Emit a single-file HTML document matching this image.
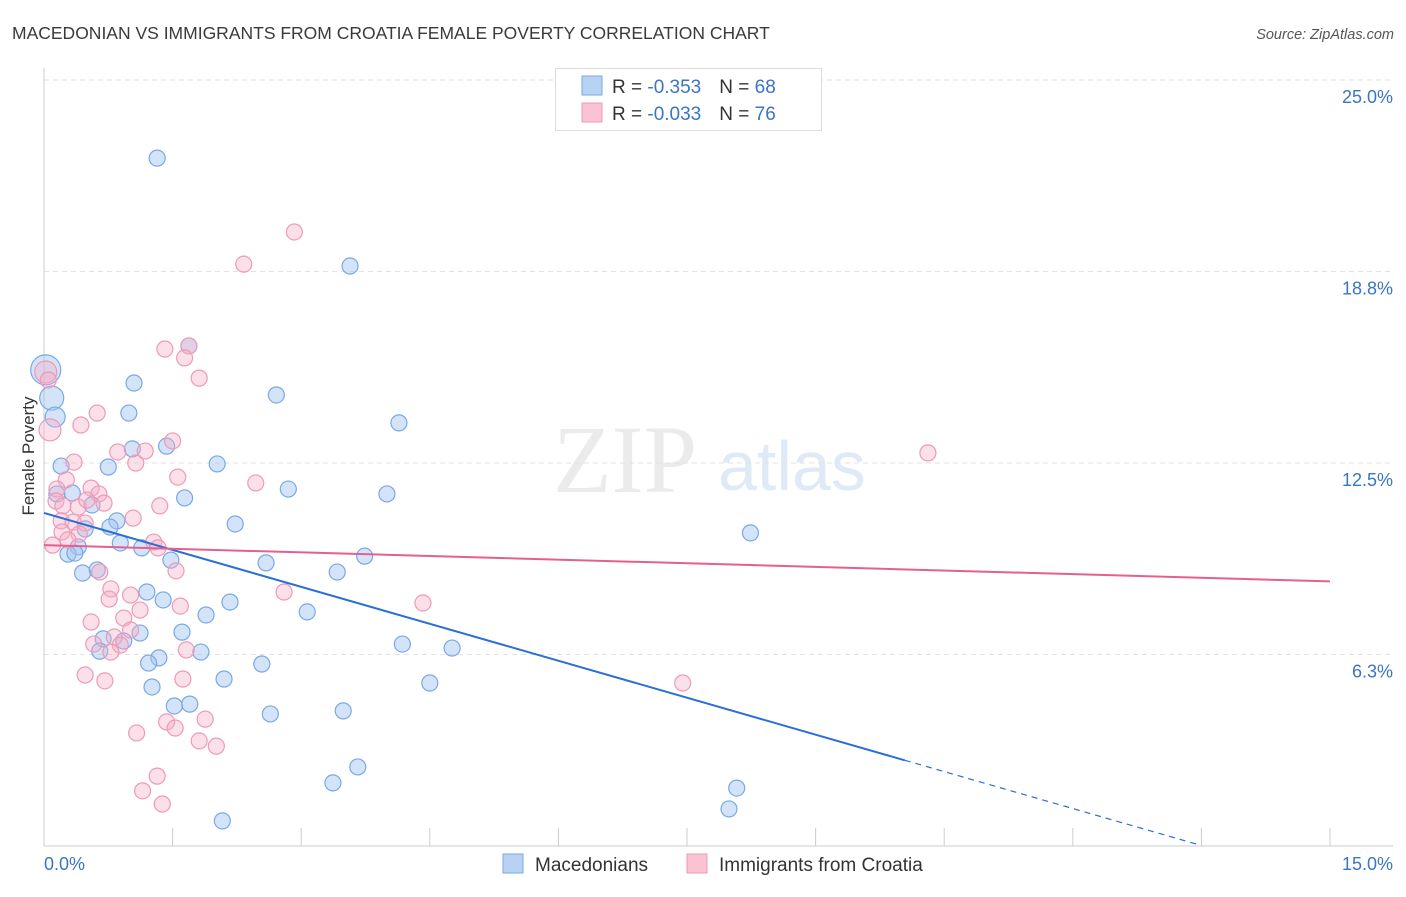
<!DOCTYPE html>
<html><head><meta charset="utf-8"><style>
body{margin:0;background:#fff;font-family:"Liberation Sans",sans-serif;}
</style></head><body>
<svg id="chart" width="1406" height="892" xmlns="http://www.w3.org/2000/svg" style="font-family:'Liberation Sans',sans-serif">
<text x="12" y="39" font-size="17.5" fill="#3a3a3a">MACEDONIAN VS IMMIGRANTS FROM CROATIA FEMALE POVERTY CORRELATION CHART</text>
<text x="1394" y="39" font-size="14.5" fill="#555" font-style="italic" text-anchor="end">Source: ZipAtlas.com</text>
<g opacity="0.35">
<text x="553" y="492" font-family="'Liberation Serif',serif" font-size="96" fill="#c8c8c8">ZIP</text>
<text x="718" y="490" font-size="70" fill="#a8c4ea">atlas</text>
</g>
<g id="grid"></g>
<g id="axes"></g>
<g id="points"></g>
<g id="lines"></g>
<text transform="translate(34,456) rotate(-90)" font-size="17" fill="#333" text-anchor="middle">Female Poverty</text>
<g>
<rect x="555.5" y="68.5" width="266" height="62" fill="#fff" stroke="#ddd"/>
<rect x="582" y="76" width="20" height="19" fill="#b8d2f4" stroke="#7aa8e6"/>
<rect x="582" y="103" width="20" height="19" fill="#f9c3d3" stroke="#ee9ab6"/>
<text x="612" y="93" font-size="19" fill="#333">R = <tspan fill="#3a75c4">-0.353</tspan><tspan dx="18">N = </tspan><tspan fill="#3a75c4">68</tspan></text>
<text x="612" y="120" font-size="19" fill="#333">R = <tspan fill="#3a75c4">-0.033</tspan><tspan dx="18">N = </tspan><tspan fill="#3a75c4">76</tspan></text>
</g>
<g>
<rect x="503" y="854" width="20" height="19" fill="#b8d2f4" stroke="#7aa8e6"/>
<text x="535" y="871" font-size="19" fill="#333">Macedonians</text>
<rect x="687" y="854" width="20" height="19" fill="#f9c3d3" stroke="#ee9ab6"/>
<text x="719" y="871" font-size="19" fill="#333">Immigrants from Croatia</text>
</g>
</svg>
<script>
const yTicks=[6.25,12.5,18.75,25];
const yTickLabels=["6.3%","12.5%","18.8%","25.0%"];
const xTickCount=10;
const blueX=[1.32,3.57,1.69,1.05,2.71,0.99,4.14,1.43,1.03,0.20,0.75,2.02,2.85,4.00,1.64,0.15,0.33,0.56,0.85,2.23,0.48,0.77,8.24,0.40,0.28,0.36,0.89,1.14,1.48,2.59,3.74,3.42,0.62,0.45,1.20,1.39,2.17,1.89,3.07,1.12,1.61,0.69,0.93,0.65,4.18,4.76,1.83,1.34,1.22,2.54,2.10,1.26,4.50,1.70,1.52,2.64,3.49,3.66,3.37,8.08,7.99,2.08,0.09,0.13,0.02];
const blueY=[22.45,18.93,16.32,15.11,14.72,14.13,13.81,13.05,12.96,12.40,12.37,12.47,11.65,11.49,11.36,11.49,11.52,11.13,10.61,10.51,10.35,10.41,10.22,9.76,9.53,9.56,9.89,9.73,9.33,9.24,9.46,8.94,9.01,8.91,8.29,8.03,7.96,7.54,7.64,6.95,6.98,6.76,6.69,6.36,6.59,6.46,6.33,6.14,5.97,5.94,5.45,5.19,5.32,4.63,4.57,4.31,4.41,2.58,2.06,1.89,1.21,0.82,14.62,14.00,15.54];
const blueR=[8,8,8,8,8,8,8,8,8,8,8,8,8,8,8,8,8,8,8,8,8,8,8,8,8,8,8,8,8,8,8,8,8,8,8,8,8,8,8,8,8,8,8,8,8,8,8,8,8,8,8,8,8,8,8,8,8,8,8,8,8,8,12,10,15];
const pinkX=[2.92,2.33,1.69,1.41,1.64,1.81,0.02,0.05,0.07,0.62,0.43,1.50,1.18,1.56,0.86,1.07,2.47,10.31,0.35,0.26,0.15,0.55,0.64,0.14,0.40,0.22,0.50,0.70,1.35,0.20,0.34,0.48,1.04,0.21,0.41,0.28,0.10,1.28,1.33,0.65,1.54,0.78,0.76,1.01,1.12,1.59,2.80,4.42,0.93,0.55,1.01,0.82,0.89,0.58,0.78,1.66,0.48,0.71,1.62,7.45,1.88,1.43,1.53,1.08,1.81,2.01,1.32,1.15,1.38];
const pinkY=[20.04,18.99,16.32,16.22,15.93,15.27,15.47,15.21,13.58,14.13,13.74,13.22,12.89,12.04,12.86,12.50,11.85,12.83,12.53,11.95,11.65,11.68,11.49,11.26,11.06,11.10,11.29,11.19,11.10,10.61,10.57,10.54,10.70,10.25,10.18,9.99,9.82,9.92,9.73,8.94,8.98,8.39,8.06,8.19,7.70,7.83,8.29,7.93,7.44,7.31,7.05,6.82,6.56,6.59,6.33,6.40,5.58,5.39,5.45,5.32,4.14,4.05,3.85,3.69,3.43,3.26,2.28,1.80,1.37];
const blueLine=[10.87,-0.804,10.04,13.44];
const pinkLine=[9.82,-0.079,15];
const NS="http://www.w3.org/2000/svg";
const X0=44,X1=1330,Y0=846,YT=80;
const sx=v=>X0+v*(X1-X0)/15;
const sy=v=>Y0-v*(Y0-YT)/25;
function mk(tag,attrs,parent){const e=document.createElementNS(NS,tag);for(const k in attrs)e.setAttribute(k,attrs[k]);document.getElementById(parent).appendChild(e);return e;}
yTicks.forEach((t,i)=>{
 const g=mk('line',{x1:X0,x2:1393,y1:sy(t),y2:sy(t),stroke:'#e2e2e2','stroke-dasharray':'5,4'},'grid');
 
 
 const l=mk('text',{x:1393,y:sy(t)+23,'font-size':18,fill:'#3a75c4','text-anchor':'end'},'axes');
 l.textContent=yTickLabels[i];
 
 
});
const ax=mk('line',{x1:X0,x2:X0,y1:68,y2:Y0,stroke:'#ccc'},'axes');


const bx=mk('line',{x1:X0,x2:1393,y1:Y0,y2:Y0,stroke:'#ccc'},'axes');


for(let i=1;i<=xTickCount;i++){const v=i*15/xTickCount;
 const t=mk('line',{x1:sx(v),x2:sx(v),y1:828,y2:Y0,stroke:'#ccc'},'axes');
 
 }
const xl0=mk('text',{x:44,y:870,'font-size':18,fill:'#3a75c4'},'axes');xl0.textContent='0.0%';


const xl1=mk('text',{x:1393,y:870,'font-size':18,fill:'#3a75c4','text-anchor':'end'},'axes');xl1.textContent='15.0%';


blueX.forEach((x,i)=>{const c=mk('circle',{cx:sx(x),cy:sy(blueY[i]),r:blueR[i],fill:'rgba(160,195,240,0.45)',stroke:'#7aa8e6','stroke-width':1.2},'points');
 
 });
pinkX.forEach((x,i)=>{const r=(i===6||i===8)?11:8;const c=mk('circle',{cx:sx(x),cy:sy(pinkY[i]),r:r,fill:'rgba(246,176,200,0.4)',stroke:'#ee9ab6','stroke-width':1.2},'points');
 
 });
const bf=x=>blueLine[0]+blueLine[1]*x;
const b1=mk('line',{x1:sx(0),y1:sy(bf(0)),x2:sx(blueLine[2]),y2:sy(bf(blueLine[2])),stroke:'#2a6fd6','stroke-width':2},'lines');


const b2=mk('line',{x1:sx(blueLine[2]),y1:sy(bf(blueLine[2])),x2:sx(blueLine[3]),y2:sy(bf(blueLine[3])),stroke:'#2a6fd6','stroke-width':1.2,'stroke-dasharray':'6,5'},'lines');


const pf=x=>pinkLine[0]+pinkLine[1]*x;
const p1=mk('line',{x1:sx(0),y1:sy(pf(0)),x2:sx(pinkLine[2]),y2:sy(pf(pinkLine[2])),stroke:'#e4608f','stroke-width':2},'lines');


</script>
</body></html>
